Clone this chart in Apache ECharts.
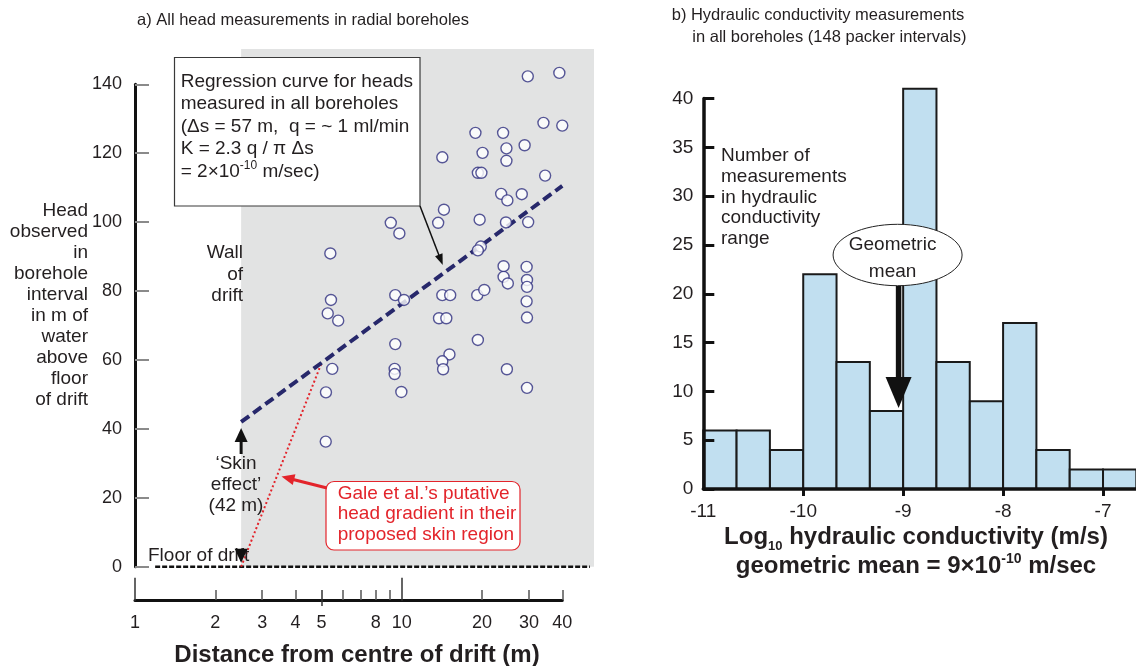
<!DOCTYPE html>
<html>
<head>
<meta charset="utf-8">
<script src="https://cdn.jsdelivr.net/npm/echarts@6/dist/echarts.min.js"></script>
<style>
  html, body { margin: 0; padding: 0; background: #fff; }
  #chart { width: 1136px; height: 666px; }
</style>
</head>
<body>
<div id="chart"></div>
<script>
// ---- Panel a: heads measured in radial boreholes ----
// distance from centre of drift (m) and head (m of water above floor)
const distanceM = [29.7, 39.0, 34.0, 40.0, 18.9, 24.0, 20.1, 24.7, 28.9, 24.7,
  14.2, 19.3, 19.9, 34.5, 23.6, 24.9, 28.2, 14.4, 13.7, 9.1,
  9.8, 19.6, 24.6, 29.8, 5.4, 19.8, 19.3, 24.1, 29.4, 24.1,
  25.0, 29.5, 29.5, 29.4, 29.5, 5.43, 5.28, 5.78, 9.46, 10.2,
  14.2, 15.2, 19.2, 20.4, 13.8, 14.7, 9.46, 19.3, 15.1, 14.2,
  14.3, 5.49, 9.41, 9.41, 5.20, 9.97, 24.8, 29.5, 5.19];
const headM = [142.3, 143.3, 128.8, 128.0, 125.9, 125.9, 120.1, 121.4, 122.3, 117.8,
  118.8, 114.3, 114.3, 113.5, 108.2, 106.3, 108.1, 103.6, 99.8, 99.8,
  96.7, 100.7, 99.9, 100.0, 90.9, 92.9, 91.8, 87.2, 87.0, 84.1,
  82.2, 83.2, 81.2, 77.0, 72.3, 77.4, 73.5, 71.4, 78.8, 77.4,
  78.8, 78.8, 78.8, 80.3, 72.1, 72.1, 64.6, 65.8, 61.6, 59.6,
  57.3, 57.4, 57.4, 55.9, 50.6, 50.7, 57.3, 51.9, 36.3];

// regression curve (Δs = 57 m per decade, skin effect 42 m at the wall)
const regressionDistance = [2.5, 40];
const regressionHead = [42, 110.5];
// Gale et al.'s putative skin gradient
const skinDistance = [2.5, 5];
const skinHead = [0, 59];
// floor of drift
const floorDistance = [1.19, 50.8];
const floorHead = [0, 0];
const wallDistance = 2.5;

const distanceTickLong = [1, 10];
const distanceTickMid = [5];
const distanceTickShort = [2, 3, 4, 6, 7, 8, 9, 20, 30, 40];
const distanceLabels = [1, 2, 3, 4, 5, 8, 10, 20, 30, 40];

// ---- Panel b: hydraulic conductivity histogram ----
const binStartLogK = [-11, -10.667, -10.333, -10, -9.667, -9.333, -9, -8.667, -8.333, -8, -7.667, -7.333, -7];
const binWidth = 1 / 3;
const binCounts = [6, 6, 4, 22, 13, 8, 41, 13, 9, 17, 4, 2, 2];
const logKLabels = [-11, -10, -9, -8, -7];
const geoMeanK = 9e-10;

const FONT = '"Liberation Sans", Arial, Helvetica, sans-serif';
const INK = '#231f20';
const lg = Math.log10;

// layout (pixels)
const PX_PER_DECADE = 266.7;
const LEFT_X0 = 135;
const LEFT_FLOOR_Y = 566.7;
const PX_PER_M = 3.446;
const DATA_TOP = 49;
const DATA_RIGHT = 594;
const X_MAX_LOG = (DATA_RIGHT - LEFT_X0) / PX_PER_DECADE;
const Y_MAX = (LEFT_FLOOR_Y - DATA_TOP) / PX_PER_M;

const noAxis = { show: false };

const xAxisCommon = {
  type: 'value', min: 0, max: lg(40), splitLine: { show: false },
  axisLine: { show: false },
  axisLabel: { show: false }
};

const option = {
  animation: false,
  backgroundColor: '#fff',
  grid: [
    { left: LEFT_X0, top: DATA_TOP, width: DATA_RIGHT - LEFT_X0, height: LEFT_FLOOR_Y - DATA_TOP, outerBoundsMode: 'none' },
    { left: LEFT_X0, top: LEFT_FLOOR_Y - 140 * PX_PER_M, width: 10, height: 140 * PX_PER_M, outerBoundsMode: 'none' },
    { left: LEFT_X0, top: 590, width: lg(40) * PX_PER_DECADE, height: 10.7, outerBoundsMode: 'none' },
    { left: 703.3, top: 98.5, width: 433, height: 390.5, outerBoundsMode: 'none' }
  ],
  xAxis: [
    { gridIndex: 0, type: 'value', min: 0, max: X_MAX_LOG, show: false },
    { gridIndex: 1, type: 'value', min: 0, max: 1, show: false },
    Object.assign({}, xAxisCommon, {
      gridIndex: 2,
      axisLine: { show: true, lineStyle: { color: '#111', width: 3 } },
      axisTick: { show: true, inside: true, length: 23, lineStyle: { color: '#333', width: 1.5 },
        customValues: distanceTickLong.map(lg) },
      axisLabel: { show: true, customValues: distanceLabels.map(lg), margin: 13,
        fontSize: 18, fontFamily: FONT, color: INK,
        formatter: v => String(Math.round(Math.pow(10, v))) }
    }),
    Object.assign({}, xAxisCommon, {
      gridIndex: 2,
      axisTick: { show: true, inside: true, length: 16, lineStyle: { color: '#333', width: 1.5 },
        customValues: distanceTickMid.map(lg) }
    }),
    Object.assign({}, xAxisCommon, {
      gridIndex: 2,
      axisTick: { show: true, inside: true, length: 10, lineStyle: { color: '#555', width: 1.5 },
        customValues: distanceTickShort.map(lg) }
    }),
    {
      gridIndex: 3, type: 'value', min: -11, max: -6.667, z: 10,
      splitLine: { show: false },
      axisLine: { show: true, lineStyle: { color: '#111', width: 3.5 } },
      axisTick: { show: true, inside: false, length: 7, lineStyle: { color: '#111', width: 3 },
        customValues: [-10, -9, -8, -7] },
      axisLabel: { customValues: logKLabels, margin: 13, fontSize: 19, fontFamily: FONT, color: INK,
        formatter: v => String(v) }
    }
  ],
  yAxis: [
    { gridIndex: 0, type: 'value', min: 0, max: Y_MAX, show: false },
    {
      gridIndex: 1, type: 'value', min: 0, max: 140, interval: 20,
      splitLine: { show: false },
      axisLine: { show: true, lineStyle: { color: '#111', width: 3 } },
      axisTick: { show: true, inside: true, length: 14, lineStyle: { color: '#8a8a8a', width: 2 } },
      axisLabel: { margin: 13, fontSize: 18, fontFamily: FONT, color: INK }
    },
    { gridIndex: 2, type: 'value', min: 0, max: 1, show: false },
    {
      gridIndex: 3, type: 'value', min: 0, max: 40, interval: 5, z: 10,
      splitLine: { show: false },
      axisLine: { show: true, lineStyle: { color: '#111', width: 3.5 } },
      axisTick: { show: true, inside: true, length: 11, lineStyle: { color: '#111', width: 3 } },
      axisLabel: { margin: 10, fontSize: 19, fontFamily: FONT, color: INK }
    }
  ],
  series: [
    {
      // shaded rock mass beyond the wall of the drift
      type: 'line', xAxisIndex: 0, yAxisIndex: 0, z: 0, silent: true,
      data: [[lg(wallDistance), 0]], showSymbol: false, lineStyle: { width: 0 },
      markArea: {
        silent: true,
        itemStyle: { color: '#e2e3e3' },
        data: [[{ coord: [lg(wallDistance), 0] }, { coord: [X_MAX_LOG, Y_MAX] }]]
      }
    },
    {
      type: 'line', xAxisIndex: 0, yAxisIndex: 0, z: 3, clip: false, silent: true,
      data: floorDistance.map((d, i) => [lg(d), floorHead[i]]),
      showSymbol: false, lineStyle: { color: '#111', width: 2.5, type: [5, 2] }
    },
    {
      type: 'line', xAxisIndex: 0, yAxisIndex: 0, z: 4, silent: true,
      data: skinDistance.map((d, i) => [lg(d), skinHead[i]]),
      showSymbol: false, lineStyle: { color: '#e3242b', width: 2, type: [2, 2.5] }
    },
    {
      type: 'line', xAxisIndex: 0, yAxisIndex: 0, z: 4, silent: true,
      data: regressionDistance.map((d, i) => [lg(d), regressionHead[i]]),
      showSymbol: false, lineStyle: { color: '#27286b', width: 4, type: [10, 5] }
    },
    {
      type: 'scatter', xAxisIndex: 0, yAxisIndex: 0, z: 5,
      data: distanceM.map((d, i) => [lg(d), headM[i]]),
      symbol: 'circle', symbolSize: 11,
      itemStyle: { color: '#fff', borderColor: '#2f3080', borderWidth: 1.4 }
    },
    {
      type: 'custom', xAxisIndex: 5, yAxisIndex: 3, z: 2,
      data: binStartLogK.map((x, i) => [x, x + binWidth, binCounts[i]]),
      encode: { x: [0, 1], y: 2 },
      renderItem: (params, api) => {
        const p0 = api.coord([api.value(0), api.value(2)]);
        const p1 = api.coord([api.value(1), 0]);
        return {
          type: 'rect',
          shape: { x: p0[0], y: p0[1], width: p1[0] - p0[0], height: p1[1] - p0[1] },
          style: { fill: '#c1dff0', stroke: '#1a1a1a', lineWidth: 2 }
        };
      }
    }
  ]
};

const chart = echarts.init(document.getElementById('chart'));
chart.setOption(option);

// ---- annotations ----
const measureCtx = document.createElement('canvas').getContext('2d');
function fontStr(size, weight) { return (weight || 'normal') + ' ' + size + 'px ' + FONT; }
function textWidth(t, size, weight) { measureCtx.font = fontStr(size, weight); return measureCtx.measureText(t).width; }

function txt(t, x, y, opt) {
  opt = opt || {};
  return {
    type: 'text', x: x, y: y, z: 100,
    style: {
      text: t, fill: opt.color || INK,
      font: fontStr(opt.size || 19, opt.weight),
      align: opt.align || 'left', verticalAlign: 'middle',
      textAlign: opt.align || 'left', textVerticalAlign: 'middle'
    }
  };
}
// a line of text made of pieces (for sub/superscripts)
function runs(parts, x, y, anchor, color) {
  const widths = parts.map(p => textWidth(p.t, p.size, p.weight));
  const total = widths.reduce((a, b) => a + b, 0);
  let cx = anchor === 'center' ? x - total / 2 : x;
  return parts.map((p, i) => {
    const el = txt(p.t, cx, y + (p.dy || 0), { size: p.size, weight: p.weight, color: color });
    cx += widths[i];
    return el;
  });
}
function arrow(x0, y0, x1, y1, color, width, headLen, headW) {
  const a = Math.atan2(y1 - y0, x1 - x0);
  const c = Math.cos(a), s = Math.sin(a);
  const bx = x1 - headLen * c, by = y1 - headLen * s;
  return [
    { type: 'line', z: 100, shape: { x1: x0, y1: y0, x2: bx + c, y2: by + s },
      style: { stroke: color, lineWidth: width } },
    { type: 'polygon', z: 100,
      shape: { points: [[x1, y1], [bx + headW / 2 * s, by - headW / 2 * c], [bx - headW / 2 * s, by + headW / 2 * c]] },
      style: { fill: color } }
  ];
}

const g = [];
// panel a titles and labels
g.push(txt('a) All head measurements in radial boreholes', 137, 20, { size: 16.5 }));
['Head', 'observed', 'in', 'borehole', 'interval', 'in m of', 'water', 'above', 'floor', 'of drift']
  .forEach((t, i) => g.push(txt(t, 88, 210.7 + i * 21, { align: 'right' })));
['Wall', 'of', 'drift'].forEach((t, i) => g.push(txt(t, 243, 253 + i * 21.3, { align: 'right' })));

// regression callout
g.push({ type: 'rect', z: 99, shape: { x: 174.5, y: 57.5, width: 245.5, height: 148.5 },
  style: { fill: '#fff', stroke: '#3a3a3a', lineWidth: 1.2 } });
['Regression curve for heads', 'measured in all boreholes', '(\u0394s = 57 m,  q = ~ 1 ml/min', 'K = 2.3 q / \u03c0 \u0394s']
  .forEach((t, i) => g.push(txt(t, 180.7, 81.7 + i * 22.4)));
g.push(...runs([{ t: '= 2\u00d710', size: 19 }, { t: '-10', size: 12, dy: -6 }, { t: ' m/sec)', size: 19 }], 180.7, 171.3));
const regStart = chart.convertToPixel({ gridIndex: 0 }, [lg(regressionDistance[0]), regressionHead[0]]);
const regMid = chart.convertToPixel({ gridIndex: 0 }, [lg(14.5), regressionHead[0] + 57 * (lg(14.5) - lg(2.5))]);
g.push(...arrow(420, 206, regMid[0] - 2, regMid[1] - 7, '#111', 1.5, 11, 8));

// skin effect
g.push(...arrow(regStart[0], 454, regStart[0], regStart[1] + 6, '#111', 3, 14, 13));
['\u2018Skin', 'effect\u2019', '(42 m)'].forEach((t, i) => g.push(txt(t, 236, 464 + i * 20.8, { align: 'center' })));
g.push(txt('Floor of drift', 148, 556));
const floorAtWall = chart.convertToPixel({ gridIndex: 0 }, [lg(wallDistance), 0]);
g.push({ type: 'polygon', z: 101,
  shape: { points: [[floorAtWall[0], floorAtWall[1] - 4], [floorAtWall[0] - 6.5, floorAtWall[1] - 18], [floorAtWall[0] + 6.5, floorAtWall[1] - 18]] },
  style: { fill: '#111' } });

// Gale et al. callout
g.push({ type: 'rect', z: 99, shape: { x: 326, y: 481.5, width: 194, height: 68.5, r: 8 },
  style: { fill: '#fff', stroke: '#e3242b', lineWidth: 1.2 } });
['Gale et al.\u2019s putative', 'head gradient in their', 'proposed skin region']
  .forEach((t, i) => g.push(txt(t, 337.7, 493.3 + i * 20.9, { color: '#e3242b' })));
g.push(...arrow(327, 488, 281.5, 476.5, '#e3242b', 3, 13, 11));

g.push(txt('Distance from centre of drift (m)', 357, 655, { size: 24, weight: 'bold', align: 'center' }));

// panel b titles and labels
g.push(txt('b) Hydraulic conductivity measurements', 671.7, 15.7, { size: 16.5 }));
g.push(txt('in all boreholes (148 packer intervals)', 692.3, 37.7, { size: 16.5 }));
['Number of', 'measurements', 'in hydraulic', 'conductivity', 'range']
  .forEach((t, i) => g.push(txt(t, 721, 155.7 + i * 20.8)));

// geometric mean marker
const meanX = chart.convertToPixel({ xAxisIndex: 5 }, lg(geoMeanK));
const meanBinTop = chart.convertToPixel({ yAxisIndex: 3 }, binCounts[5]);
g.push({ type: 'ellipse', z: 99, shape: { cx: meanX - 1, cy: 255, rx: 64.5, ry: 30.7 },
  style: { fill: '#fff', stroke: '#222', lineWidth: 1 } });
g.push(txt('Geometric', meanX - 6, 245, { align: 'center' }));
g.push(txt('mean', meanX - 6, 272, { align: 'center' }));
g.push(...arrow(meanX, 286, meanX, meanBinTop - 3, '#111', 5.5, 31, 26));

g.push(...runs([
  { t: 'Log', size: 24, weight: 'bold' },
  { t: '10', size: 13, weight: 'bold', dy: 9 },
  { t: ' hydraulic conductivity (m/s)', size: 24, weight: 'bold' }
], 916, 537, 'center'));
g.push(...runs([
  { t: 'geometric mean = 9\u00d710', size: 24, weight: 'bold' },
  { t: '-10', size: 14, weight: 'bold', dy: -7 },
  { t: ' m/sec', size: 24, weight: 'bold' }
], 916, 566, 'center'));

chart.setOption({ graphic: { elements: g } });
</script>
</body>
</html>
